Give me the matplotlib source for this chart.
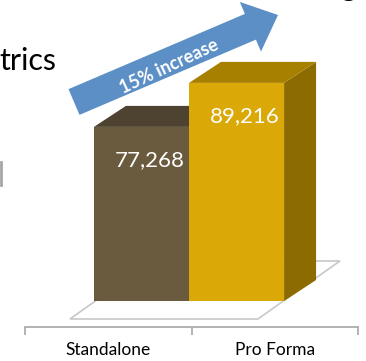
import matplotlib
matplotlib.use("Agg")
import matplotlib.pyplot as plt
from matplotlib.patches import Polygon, Rectangle, FancyArrow

# data
categories = ["Standalone", "Pro Forma"]
values = [77268, 89216]
value_labels = ["77,268", "89,216"]
arrow_label = "15% increase"

# styles
FRONT = ["#6A5A3E", "#DAA807"]
TOP = ["#4E4230", "#A88000"]
SIDE = ["#4A3E2C", "#8C6C00"]
AXIS_GRAY = "#A6A6A6"
ARROW_BLUE = "#5B8FC6"
FONT = "Lato"

BASE = 30000          # value at the bottom of the bars
BAR_LEFT = [0.414, 0.985]
BAR_W = 0.571
DEPTH_X = 32 / 166.5  # 3d depth offset in data units
DEPTH_V = 21 * 271.5

plt.rcParams["font.family"] = [FONT, "DejaVu Sans"]

fig = plt.figure(figsize=(3.66, 3.61), dpi=100)

# overlay in pixel coordinates for the slide decorations
ov = fig.add_axes([0, 0, 1, 1])
ov.set_xlim(0, 366)
ov.set_ylim(361, 0)
ov.axis("off")

ax = fig.add_axes([25 / 366, 34 / 361, 333 / 366, 327 / 361])
ax.set_xlim(0, 2)
ax.set_ylim(22940, 111720)
ax.patch.set_alpha(0)
for s in ["top", "left", "right"]:
    ax.spines[s].set_visible(False)
ax.spines["bottom"].set_color(AXIS_GRAY)
ax.spines["bottom"].set_linewidth(1.2)
ax.set_yticks([])
ax.set_xticks([0, 1, 2])
ax.set_xticklabels([])
ax.tick_params(axis="x", which="major", length=6, width=1.2, color=AXIS_GRAY, direction="out")
ax.set_xticks([0.5, 1.5], minor=True)
ax.set_xticklabels(categories, minor=True, fontsize=12.5, color="#000000")
ax.tick_params(axis="x", which="minor", length=0, pad=11)

# floor
f_front = BASE - 18 * 271.5
f_back = f_front + 58 * 271.5
f_dx = 82 / 166.5
floor = Polygon([(0.270, f_front), (1.399, f_front), (1.399 + f_dx, f_back), (0.270 + f_dx, f_back)],
                closed=True, facecolor="white", edgecolor="#C8C8C8", lw=1.2, zorder=1)
ax.add_patch(floor)

# 3d bars
for i, v in enumerate(values):
    x0 = BAR_LEFT[i]
    x1 = x0 + BAR_W
    side = Polygon([(x1, BASE), (x1, v), (x1 + DEPTH_X, v + DEPTH_V), (x1 + DEPTH_X, BASE + DEPTH_V)],
                   closed=True, facecolor=SIDE[i], edgecolor="none", zorder=2 + i)
    top = Polygon([(x0, v), (x1, v), (x1 + DEPTH_X, v + DEPTH_V), (x0 + DEPTH_X, v + DEPTH_V)],
                  closed=True, facecolor=TOP[i], edgecolor="none", zorder=2 + i)
    front = Rectangle((x0, BASE), BAR_W, v - BASE, facecolor=FRONT[i], edgecolor="none", zorder=2 + i)
    ax.add_patch(side)
    ax.add_patch(top)
    ax.add_patch(front)
    ax.annotate(value_labels[i], (x0 + BAR_W / 2, v), xytext=(8, -33), textcoords="offset pixels",
                ha="center", va="center", color="white", fontsize=16, zorder=5)

# increase arrow
arrow = FancyArrow(74, 102, 204, -87, width=28, head_width=54, head_length=30,
                   length_includes_head=True, color=ARROW_BLUE, lw=0)
ov.add_patch(arrow)
ov.text(169, 66, arrow_label, rotation=25, ha="center", va="center", color="white",
        fontsize=13, fontweight="bold", rotation_mode="anchor")

# pieces of the surrounding slide
ov.text(-1, 70, "trics", ha="left", va="baseline", fontsize=22, color="#000000")
ov.text(341, -4, "g", ha="left", va="baseline", fontsize=22, color="#000000")
ov.plot([1, 1], [162, 185], color=AXIS_GRAY, lw=2)

fig.savefig("out.png", dpi=100)
